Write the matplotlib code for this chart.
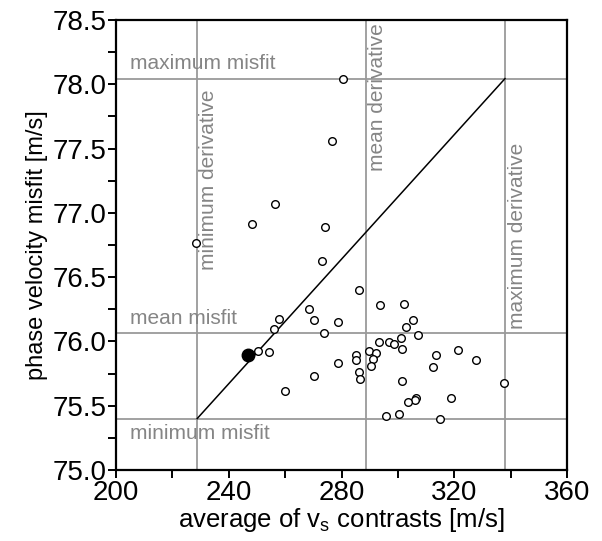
import matplotlib
matplotlib.use("Agg")
import matplotlib.pyplot as plt
from matplotlib.ticker import MultipleLocator

plt.rcParams['font.family'] = ['Liberation Sans', 'DejaVu Sans']
plt.rcParams['mathtext.default'] = 'regular'

# data (average of vs contrasts [m/s], phase velocity misfit [m/s])
vs_avg = [280.6, 276.6, 256.4, 248.4, 274.1, 228.5, 273.1, 286.3, 268.5, 257.9,
          270.4, 278.6, 256.2, 273.8, 293.5, 302.3, 305.2, 302.8, 307.3, 293.3,
          296.7, 298.5, 301.2, 301.4, 250.4, 254.2, 285.3, 285.3, 289.8, 292.3,
          291.0, 290.4, 278.9, 286.3, 286.5, 270.3, 259.9, 301.4, 306.5, 306.2,
          303.7, 295.7, 300.4, 313.7, 321.3, 312.6, 327.7, 337.7, 318.7, 314.9]
misfit = [78.044, 77.557, 77.070, 76.913, 76.892, 76.762, 76.622, 76.397, 76.252, 76.174,
          76.169, 76.148, 76.097, 76.063, 76.286, 76.288, 76.163, 76.109, 76.047, 75.998,
          75.998, 75.983, 76.027, 75.941, 75.923, 75.915, 75.897, 75.853, 75.928, 75.910,
          75.864, 75.812, 75.835, 75.763, 75.705, 75.728, 75.617, 75.695, 75.563, 75.547,
          75.528, 75.417, 75.435, 75.897, 75.934, 75.804, 75.858, 75.674, 75.563, 75.400]

best_vs = [247.0]
best_misfit = [75.897]

deriv_vals = [228.8, 288.6, 338.0]      # minimum, mean, maximum derivative
misfit_vals = [75.40, 76.065, 78.044]   # minimum, mean, maximum misfit

fig = plt.figure(figsize=(6.02, 5.41), dpi=100)
ax = fig.add_axes([116/602, 1-470/541, (567-116)/602, (470-20)/541])

gray_line = '#9a9a9a'
gray_text = '#858585'

for d in deriv_vals:
    ax.axvline(d, color=gray_line, lw=1.3, zorder=1)
for m in misfit_vals:
    ax.axhline(m, color=gray_line, lw=1.3, zorder=1)

ax.plot([deriv_vals[0], deriv_vals[2]], [misfit_vals[0], misfit_vals[2]],
        color='black', lw=1.1, zorder=2)

ax.plot(vs_avg, misfit, linestyle='none', marker='o', markersize=5.5,
        markerfacecolor='white', markeredgecolor='black', markeredgewidth=1.0, zorder=3)
ax.plot(best_vs, best_misfit, linestyle='none', marker='o', markersize=9,
        color='black', zorder=4)

tfs = 15
ax.text(205.0, misfit_vals[2] + 0.04, 'maximum misfit', color=gray_text, fontsize=tfs,
        ha='left', va='bottom')
ax.text(205.0, misfit_vals[1] + 0.04, 'mean misfit', color=gray_text, fontsize=tfs,
        ha='left', va='bottom')
ax.text(205.0, misfit_vals[0] - 0.04, 'minimum misfit', color=gray_text, fontsize=tfs,
        ha='left', va='top')
ax.text(deriv_vals[0] + 4.0, 77.257, 'minimum derivative', color=gray_text, fontsize=tfs,
        rotation=90, ha='center', va='center')
ax.text(deriv_vals[1] + 4.0, 77.898, 'mean derivative', color=gray_text, fontsize=tfs,
        rotation=90, ha='center', va='center')
ax.text(deriv_vals[2] + 4.5, 76.818, 'maximum derivative', color=gray_text, fontsize=tfs,
        rotation=90, ha='center', va='center')

ax.set_xlim(200, 360)
ax.set_ylim(75.0, 78.5)
ax.xaxis.set_major_locator(MultipleLocator(40))
ax.xaxis.set_minor_locator(MultipleLocator(20))
ax.yaxis.set_major_locator(MultipleLocator(0.5))
ax.yaxis.set_minor_locator(MultipleLocator(0.25))
ax.yaxis.set_major_formatter(matplotlib.ticker.FormatStrFormatter('%.1f'))

ax.tick_params(which='both', direction='out', length=6, width=1.4, labelsize=20, pad=1)
for s in ax.spines.values():
    s.set_linewidth(1.6)

ax.set_xlabel('average of v$_{s}$ contrasts [m/s]', fontsize=18.5, labelpad=0)
ax.set_ylabel('phase velocity misfit [m/s]', fontsize=17, labelpad=3)

fig.savefig('out.png', dpi=100)
